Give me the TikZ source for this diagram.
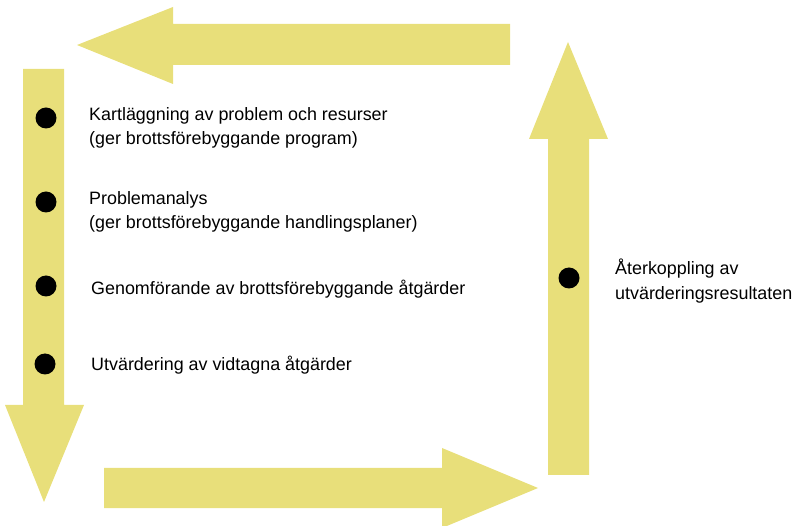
\documentclass[tikz,border=0pt]{standalone}
\usepackage{fontspec}
\setmainfont{Liberation Sans}
\usepackage{tikz}
\usepackage{xcolor}
\definecolor{pale}{RGB}{232,223,122}
\tikzstyle{bigarrow}	=[fill=pale, draw=none]
\tikzstyle{dot}		=[circle, fill=black, minimum size=21pt, inner sep=0pt]
\tikzstyle{step txt}	=[anchor=west, align=left, inner sep=0pt, font=\fontsize{17.9}{24.5}\selectfont]

\begin{document}
\begin{tikzpicture}[x=1pt, y=-1pt]
   		\useasboundingbox (0,0) rectangle (809,526);
   		
   		%%%%% the four arrows of the cycle
   		\path[bigarrow] (510,24) -- (173,24) -- (173,7) -- (77,45) -- (173,84) -- (173,65) -- (510,65) -- cycle;
   		\path[bigarrow] (23,69) -- (64,69) -- (64,405) -- (84,405) -- (44,502) -- (5,405) -- (23,405) -- cycle;
   		\path[bigarrow] (104,468) -- (442,468) -- (442,448) -- (538,488) -- (442,528) -- (442,508) -- (104,508) -- cycle;
   		\path[bigarrow] (548,475) -- (548,139) -- (529,139) -- (568,42) -- (608,139) -- (589,139) -- (589,475) -- cycle;
   		
   		%%%%% bullets
   		\foreach \pos/\name in {{(46,118)/b1}, {(46,202)/b2}, {(46,286)/b3}, {(45,364)/b4}, {(569,278)/b5}}
   		\node[dot] (\name) at \pos {};
   		
   		%%%% steps
   		\node[step txt] (t1) at (89,128) {Kartläggning av problem och resurser\\(ger brottsförebyggande program)};
   		\node[step txt] (t2) at (89,212) {Problemanalys\\(ger brottsförebyggande handlingsplaner)};
   		\node[step txt] (t3) at (91,289) {Genomförande av brottsförebyggande åtgärder};
   		\node[step txt] (t4) at (91,365) {Utvärdering av vidtagna åtgärder};
   		\node[step txt] (t5) at (615,281) {Återkoppling av\\utvärderingsresultaten};
\end{tikzpicture}
\end{document}
